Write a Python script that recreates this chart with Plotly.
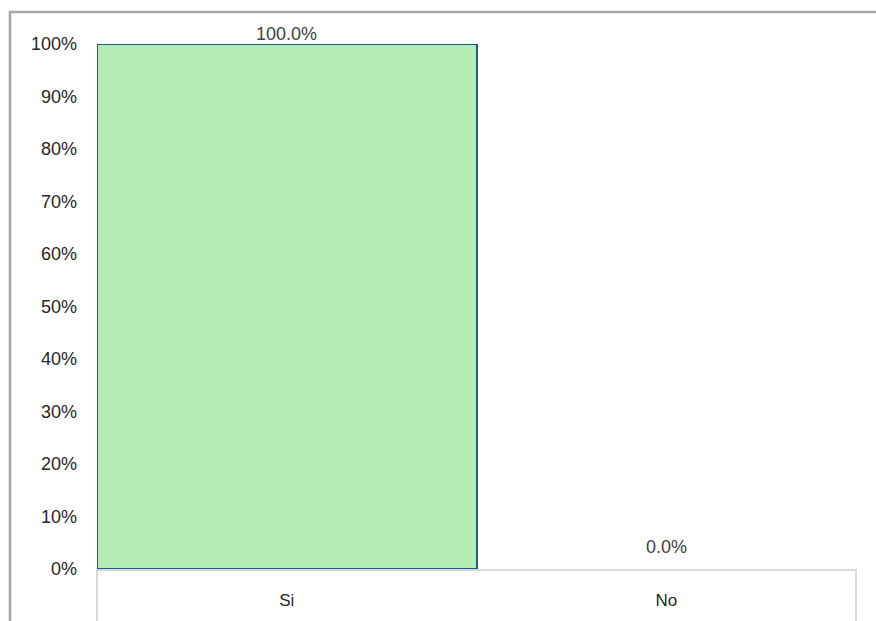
import plotly.graph_objects as go

categories = ["Si", "No"]
values = [1.0, 0.0]
y_ticks = [0, 0.1, 0.2, 0.3, 0.4, 0.5, 0.6, 0.7, 0.8, 0.9, 1.0]

W, H = 876, 621
L, R, T, B = 97, 20, 44, 52
pw, ph = W - L - R, H - T - B
FONT = "Liberation Sans, Arial, sans-serif"

def px_x(x):
    return (x - L) / pw

def px_y(y):
    return (H - B - y) / ph

fig = go.Figure()
fig.add_trace(go.Bar(
    x=categories, y=values,
    marker=dict(color="#b3edb5",
                line=dict(color="#1f5c8a", width=[2 if v > 0 else 0 for v in values])),
    hoverinfo="x+y",
))

# data labels
annotations = []
for c, v in zip(categories, values):
    annotations.append(dict(
        x=c, y=v, xref="x", yref="y", text=f"{v:.1%}", showarrow=False,
        yanchor="bottom", yshift=-2 if v > 0 else 10,
        font=dict(family=FONT, size=18, color="#404040"),
    ))

grey = "#d9d9d9"
shapes = [
    # outer chart border (partially cropped)
    dict(type="rect", xref="paper", yref="paper",
         x0=px_x(10), x1=px_x(900), y0=px_y(650), y1=px_y(12),
         line=dict(color="#a6a6a6", width=2.5), layer="below"),
    # category table verticals
    dict(type="line", xref="paper", yref="paper",
         x0=0, x1=0, y0=0, y1=px_y(640), line=dict(color=grey, width=2)),
    dict(type="line", xref="paper", yref="paper",
         x0=1, x1=1, y0=0, y1=px_y(640), line=dict(color=grey, width=2)),
]

fig.update_layout(
    width=W, height=H,
    margin=dict(l=L, r=R, t=T, b=B),
    paper_bgcolor="white", plot_bgcolor="white",
    bargap=0, showlegend=False,
    font=dict(family=FONT, size=17, color="#404040"),
    shapes=shapes, annotations=annotations,
    xaxis=dict(showgrid=False, showline=True, linecolor=grey, linewidth=2,
               layer="above traces",
               ticks="", ticklabelstandoff=15, automargin=False,
               tickfont=dict(family=FONT, size=17, color="#262626"),
               zeroline=False),
    yaxis=dict(range=[0, 1], tickvals=y_ticks, tickformat=".0%",
               showgrid=False, showline=False, zeroline=False, ticks="",
               automargin=False, ticklabelstandoff=19,
               tickfont=dict(family=FONT, size=18, color="#262626")),
)

fig.write_html("out.html")
